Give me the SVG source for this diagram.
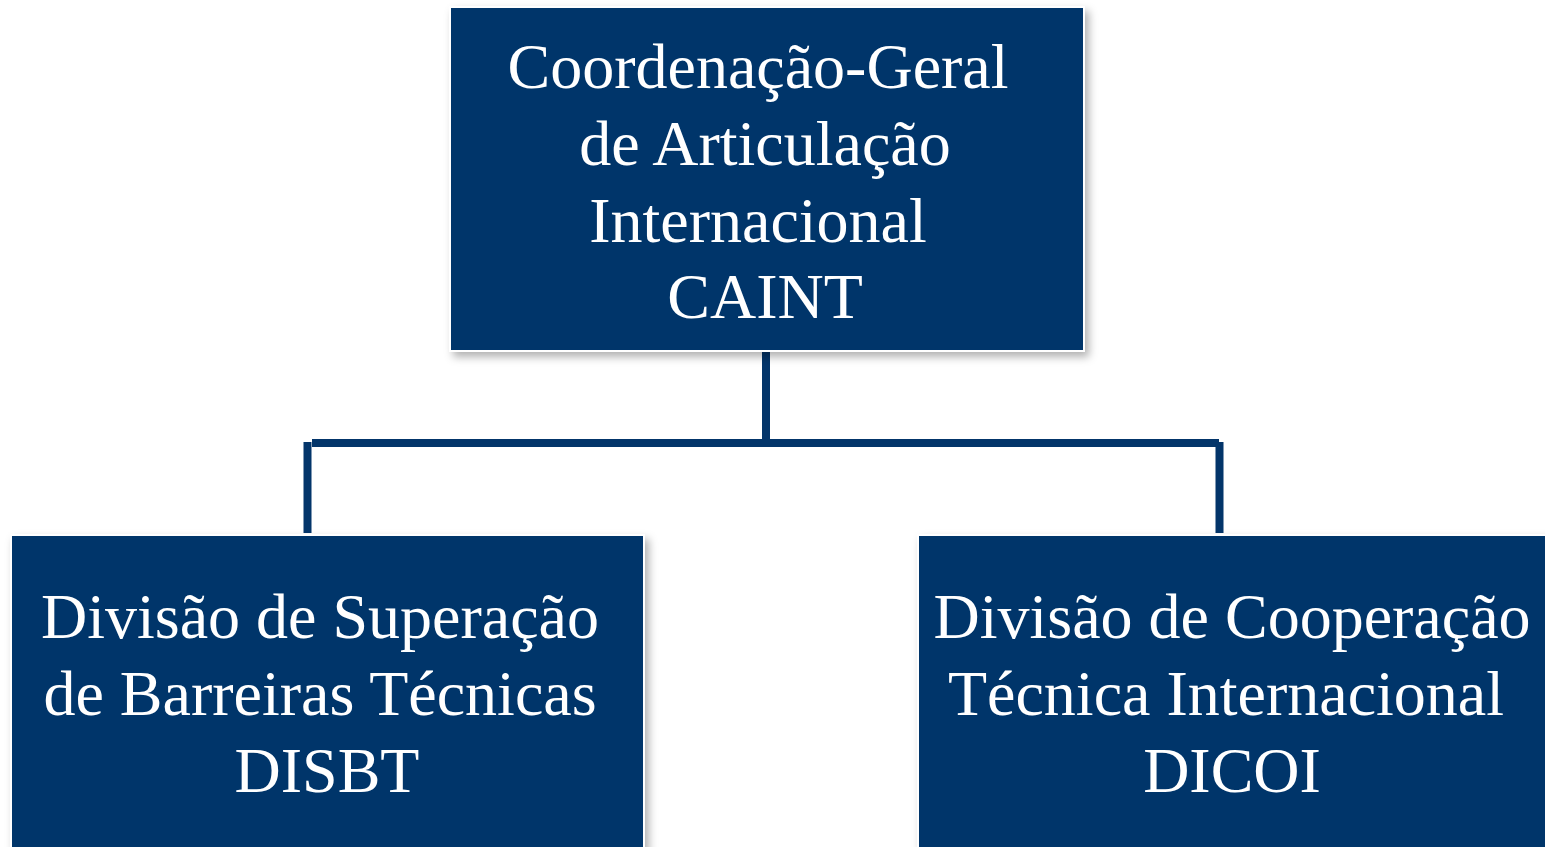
<svg xmlns="http://www.w3.org/2000/svg" width="1545" height="847" viewBox="0 0 1545 847">
<style>
.box{fill:#03356A;stroke:#ffffff;stroke-width:2;filter:url(#sh)}
.t{font-family:"Liberation Serif","Times New Roman",serif;font-size:64px;fill:#ffffff;text-anchor:middle}
.c{stroke:#03356A;stroke-width:8;fill:none;stroke-linecap:butt}
</style>
<defs>
<filter id="sh" x="-5%" y="-5%" width="115%" height="120%">
<feDropShadow dx="4" dy="5" stdDeviation="4" flood-color="#000" flood-opacity="0.3"/>
</filter>
</defs>
<rect width="1545" height="847" fill="#ffffff"/>
<g id="connectors">
<line class="c" x1="766" y1="352" x2="766" y2="444"/>
<line class="c" x1="312" y1="443" x2="766" y2="443"/>
<line class="c" x1="766" y1="443" x2="1219" y2="443"/>
<line class="c" x1="307.5" y1="442" x2="307.5" y2="533"/>
<line class="c" x1="1219.5" y1="442" x2="1219.5" y2="533"/>
</g>
<g id="caint">
<rect class="box" x="450" y="7" width="634" height="344"/>
<text class="t" x="758" y="88">Coordenação-Geral</text>
<text class="t" x="765" y="165">de Articulação</text>
<text class="t" x="758" y="242">Internacional</text>
<text class="t" x="765" y="318">CAINT</text>
</g>
<g id="disbt">
<rect class="box" x="11" y="535" width="633" height="330"/>
<text class="t" x="320" y="638">Divisão de Superação</text>
<text class="t" x="320" y="715">de Barreiras Técnicas</text>
<text class="t" x="327" y="792">DISBT</text>
</g>
<g id="dicoi">
<rect class="box" x="918" y="535" width="640" height="330"/>
<text class="t" x="1232" y="638">Divisão de Cooperação</text>
<text class="t" x="1226" y="715">Técnica Internacional</text>
<text class="t" x="1232" y="792">DICOI</text>
</g>
</svg>
